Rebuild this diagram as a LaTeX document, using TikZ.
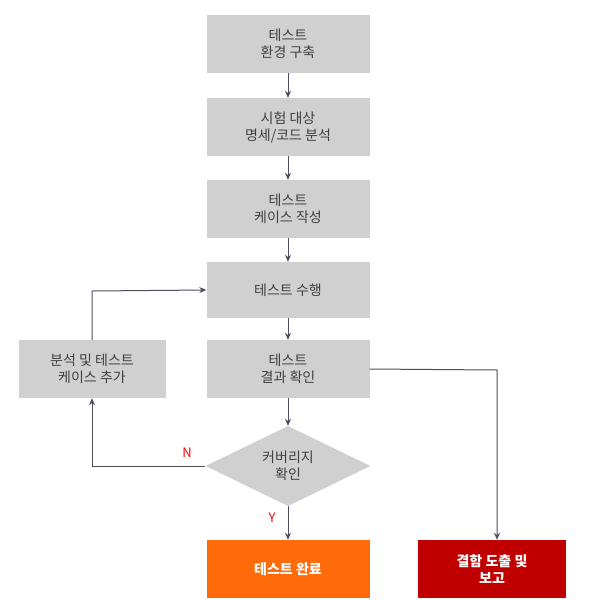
\documentclass[tikz,border=0pt]{standalone}
\usepackage{fontspec}
\setmainfont{Noto Sans CJK KR}
\usetikzlibrary{shapes.geometric,arrows.meta}
\definecolor{gbox}{HTML}{D0D0D0}
\definecolor{gtext}{HTML}{404040}
\definecolor{arr}{HTML}{4A4E5E}
\definecolor{orng}{HTML}{FF6A0A}
\definecolor{rd}{HTML}{C00000}
\begin{document}
\begin{tikzpicture}[x=1pt,y=-1pt,
  box/.style={fill=gbox,minimum width=163pt,minimum height=58pt,align=center,text=gtext,font=\fontsize{14}{17}\selectfont,inner sep=0pt},
  endbox/.style={minimum height=58pt,align=center,text=white,font=\bfseries\fontsize{14}{17}\selectfont,inner sep=0pt},
  conn/.style={draw=arr,line width=1pt,-{Stealth[length=7pt,width=6pt]}},
  lab/.style={text=red,font=\fontsize{13}{15}\selectfont}]
\useasboundingbox (0,0) rectangle (600,600);
\node[box] (b1) at (288,44) {테스트\\환경 구축};
\node[box] (b2) at (288,127) {시험 대상\\명세/코드 분석};
\node[box] (b3) at (288,209) {테스트\\케이스 작성};
\node[box,minimum height=56pt] (b4) at (288,290) {테스트 수행};
\node[box] (b5) at (288,369) {테스트\\결과 확인};
\node[diamond,fill=gbox,minimum width=165pt,minimum height=80pt,aspect=2.06,inner sep=0pt,align=center,text=gtext,font=\fontsize{14}{17}\selectfont] (d) at (288,466) {커버리지\\확인};
\node[box,minimum width=147pt] (lb) at (92,369) {분석 및 테스트\\케이스 추가};
\node[endbox,fill=orng,minimum width=163pt] (ok) at (288,569) {테스트 완료};
\node[endbox,fill=rd,minimum width=148pt] (rep) at (492,569) {결함 도출 및\\보고};
\draw[conn] (b1) -- (b2);
\draw[conn] (b2) -- (b3);
\draw[conn] (b3) -- (b4);
\draw[conn] (b4) -- (b5);
\draw[conn] (b5) -- (d);
\draw[conn] (d) -- (ok);
\draw[conn] (d.west) -- (92,466) -- (lb.south);
\draw[conn] (lb.north) -- (92,291) -- (b4.west);
\draw[conn] (b5.east) -- (497,370) -- (rep.north -| 497,0);
\node[lab] at (187,453) {N};
\node[lab] at (272,518) {Y};
\end{tikzpicture}
\end{document}
